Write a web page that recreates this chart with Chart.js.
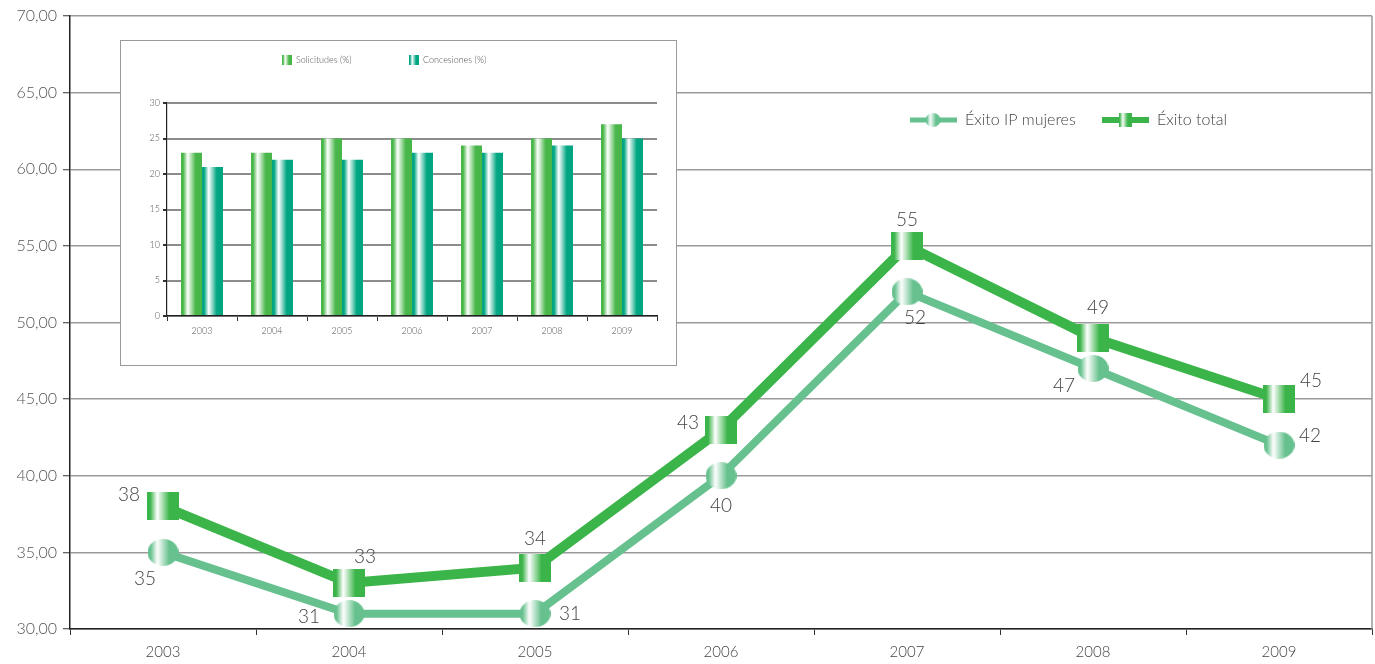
<!DOCTYPE html>
<html>
<head>
<meta charset="utf-8">
<script src="https://cdn.jsdelivr.net/npm/chart.js@4.4.1/dist/chart.umd.min.js"></script>
<style>
  html, body { margin: 0; padding: 0; background: #fff; }
  #wrap { position: relative; width: 1375px; height: 664px; overflow: hidden; }
  #main { position: absolute; left: 0; top: 0; }
  #insetBox { position: absolute; left: 120px; top: 40px; width: 555px; height: 324px;
              border: 1px solid #9a9a9a; background: #fff; }
  #inset { position: absolute; left: 0; top: 0; }
</style>
</head>
<body>
<div id="wrap">
  <canvas id="main" width="1375" height="664"></canvas>
  <div id="insetBox"><canvas id="inset" width="555" height="324"></canvas></div>
</div>
<script>
// --- data ---
const years = ['2003', '2004', '2005', '2006', '2007', '2008', '2009'];
const exitoMujeres = [35, 31, 31, 40, 52, 47, 42];
const exitoTotal = [38, 33, 34, 43, 55, 49, 45];
const solicitudes = [23, 23, 25, 25, 24, 25, 27];
const concesiones = [21, 22, 22, 23, 23, 24, 25];

// label placement around each marker (dx, dy)
const totalLabelOffset = [[-34, -12], [16, -26], [0, -29], [-33, -7], [0, -26], [5, -30], [32, -18]];
const mujeresLabelOffset = [[-18, 26], [-40, 3], [35, 0], [0, 30], [8, 26], [-29, 17], [31, -9]];

const FONT = 'Lato, "DejaVu Sans", sans-serif';
const cTotal = 'rgb(59,181,74)';
const cMujeres = 'rgb(102,193,142)';
const cSolic = 'rgb(72,182,72)';
const cConc = 'rgb(0,166,130)';

function shine(g, x0, x1, color) {
  const gr = g.createLinearGradient(x0, 0, x1, 0);
  gr.addColorStop(0, color);
  gr.addColorStop(0.1, color);
  gr.addColorStop(0.32, '#ffffff');
  gr.addColorStop(0.7, color);
  gr.addColorStop(1, color);
  return gr;
}

function squareMarker(w, h, color) {
  const c = document.createElement('canvas');
  c.width = w; c.height = h;
  const g = c.getContext('2d');
  g.fillStyle = shine(g, 0, w, color);
  g.fillRect(0, 0, w, h);
  return c;
}

function circleMarker(w, h, color) {
  const c = document.createElement('canvas');
  c.width = w; c.height = h;
  const g = c.getContext('2d');
  g.fillStyle = shine(g, 0, w, color);
  g.beginPath();
  g.ellipse(w / 2, h / 2, w / 2, h / 2, 0, 0, Math.PI * 2);
  g.fill();
  return c;
}

const sqBig = squareMarker(32, 28, cTotal);
const ciBig = circleMarker(31, 27, cMujeres);
const sqSmall = squareMarker(13, 14, cTotal);
const ciSmall = circleMarker(15, 14, cMujeres);

const mainExtras = {
  id: 'mainExtras',
  beforeDatasetsDraw(chart) {
    const { ctx, chartArea } = chart;
    ctx.save();
    ctx.strokeStyle = '#9a9a9a';
    ctx.lineWidth = 1.5;
    ctx.beginPath();
    ctx.moveTo(chartArea.right, chartArea.top);
    ctx.lineTo(chartArea.right, chartArea.bottom);
    ctx.stroke();
    ctx.restore();
  },
  afterDatasetsDraw(chart) {
    const { ctx } = chart;
    ctx.save();
    ctx.font = '300 19px ' + FONT;
    ctx.fillStyle = '#444';
    ctx.textAlign = 'center';
    ctx.textBaseline = 'middle';
    const offs = [mujeresLabelOffset, totalLabelOffset];
    chart.data.datasets.forEach((ds, i) => {
      chart.getDatasetMeta(i).data.forEach((el, j) => {
        const [dx, dy] = offs[i][j];
        ctx.fillText(String(ds.data[j]), el.x + dx, el.y + dy);
      });
    });

    // legend
    const ly = 120;
    ctx.lineCap = 'butt';
    ctx.strokeStyle = cMujeres; ctx.lineWidth = 5;
    ctx.beginPath(); ctx.moveTo(910, ly); ctx.lineTo(957, ly); ctx.stroke();
    ctx.drawImage(ciSmall, 933 - 7.5, ly - 7);
    ctx.strokeStyle = cTotal; ctx.lineWidth = 6;
    ctx.beginPath(); ctx.moveTo(1102, ly); ctx.lineTo(1149, ly); ctx.stroke();
    ctx.drawImage(sqSmall, 1125 - 6.5, ly - 7);
    ctx.font = '300 16px ' + FONT;
    ctx.textAlign = 'left';
    ctx.fillStyle = '#444';
    ctx.fillText('Éxito IP mujeres', 965, ly);
    ctx.fillText('Éxito total', 1157, ly);
    ctx.restore();
  }
};

new Chart(document.getElementById('main'), {
  type: 'line',
  data: {
    labels: years,
    datasets: [
      {
        label: 'Éxito IP mujeres',
        data: exitoMujeres,
        borderColor: cMujeres,
        borderWidth: 8,
        pointStyle: ciBig,
        pointRadius: 14,
        tension: 0,
        fill: false
      },
      {
        label: 'Éxito total',
        data: exitoTotal,
        borderColor: cTotal,
        borderWidth: 10,
        pointStyle: sqBig,
        pointRadius: 14,
        tension: 0,
        fill: false
      }
    ]
  },
  options: {
    responsive: false,
    animation: false,
    events: [],
    layout: { autoPadding: false, padding: { top: 16, right: 3, left: 0, bottom: 0 } },
    plugins: { legend: { display: false }, tooltip: { enabled: false } },
    scales: {
      x: {
        offset: true,
        afterFit: s => { s.height = 35; },
        grid: { offset: true, drawOnChartArea: false, drawTicks: true, tickLength: 6, tickColor: '#333', tickWidth: 1 },
        border: { color: '#222', width: 1.5 },
        ticks: { color: '#444', font: { family: FONT, size: 15, weight: '300' }, padding: 8 }
      },
      y: {
        min: 30, max: 70,
        afterFit: s => { s.width = 70; },
        grid: { color: '#9a9a9a', lineWidth: 1.5, tickLength: 7, tickColor: '#333', tickWidth: 1 },
        border: { color: '#222', width: 1.5 },
        ticks: {
          stepSize: 5,
          color: '#555',
          padding: 6,
          font: { family: FONT, size: 16, weight: '300' },
          callback: v => v.toFixed(2).replace('.', ',')
        }
      }
    }
  },
  plugins: [mainExtras]
});

// --- inset bar chart ---
const insetColors = [cSolic, cConc];
const insetExtras = {
  id: 'insetExtras',
  beforeDatasetsDraw(chart) {
    const ctx = chart.ctx;
    chart.data.datasets.forEach((ds, i) => {
      chart.getDatasetMeta(i).data.forEach(el => {
        const { x, width } = el.getProps(['x', 'width'], true);
        el.options = Object.assign({}, el.options, {
          backgroundColor: shine(ctx, x - width / 2, x + width / 2, insetColors[i])
        });
      });
    });
  },
  afterDraw(chart) {
    const ctx = chart.ctx;
    ctx.save();
    const ly = 19;
    ctx.font = '300 9px ' + FONT;
    ctx.textBaseline = 'middle';
    ctx.textAlign = 'left';
    ctx.fillStyle = shine(ctx, 161, 171, cSolic);
    ctx.fillRect(161, ly - 5, 10, 10);
    ctx.fillStyle = shine(ctx, 288, 298, cConc);
    ctx.fillRect(288, ly - 5, 10, 10);
    ctx.fillStyle = '#555';
    ctx.fillText('Solicitudes (%)', 175, ly);
    ctx.fillText('Concesiones (%)', 302, ly);
    ctx.restore();
  }
};

new Chart(document.getElementById('inset'), {
  type: 'bar',
  data: {
    labels: years,
    datasets: [
      { label: 'Solicitudes (%)', data: solicitudes, backgroundColor: () => cSolic, borderWidth: 0 },
      { label: 'Concesiones (%)', data: concesiones, backgroundColor: () => cConc, borderWidth: 0 }
    ]
  },
  options: {
    responsive: false,
    animation: false,
    events: [],
    datasets: { bar: { categoryPercentage: 0.6, barPercentage: 1.0 } },
    layout: { autoPadding: false, padding: { top: 62, right: 19, left: 0, bottom: 0 } },
    plugins: { legend: { display: false }, tooltip: { enabled: false } },
    scales: {
      x: {
        afterFit: s => { s.height = 49; },
        grid: { offset: true, drawOnChartArea: false, tickLength: 5, tickColor: '#333' },
        border: { color: '#222', width: 1.2 },
        ticks: { color: '#555', font: { family: FONT, size: 9, weight: '300' }, padding: 5 }
      },
      y: {
        min: 0, max: 30,
        afterFit: s => { s.width = 46; },
        grid: { color: '#8c8c8c', lineWidth: 2, tickLength: 4, tickColor: '#333' },
        border: { color: '#222', width: 1.2 },
        ticks: { stepSize: 5, color: '#555', padding: 3, font: { family: FONT, size: 9, weight: '300' } }
      }
    }
  },
  plugins: [insetExtras]
});
</script>
</body>
</html>
